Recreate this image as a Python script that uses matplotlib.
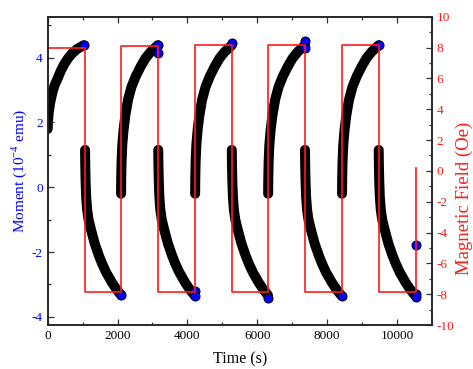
import matplotlib
matplotlib.use("Agg")
import matplotlib.pyplot as plt
from matplotlib.ticker import MultipleLocator

plt.rcParams["font.family"] = ["Liberation Serif", "DejaVu Serif"]
plt.rcParams["mathtext.fontset"] = "custom"
plt.rcParams["mathtext.rm"] = "Liberation Serif"
plt.rcParams["axes.unicode_minus"] = False

# field switching times (s) and field levels (Oe)
switch_t = [0, 1070, 2100, 3165, 4220, 5270, 6310, 7365, 8425, 9475, 10545]
field_oe = [8.0, -7.85, 8.1, -7.85, 8.15, -7.85, 8.15, -7.85, 8.15, -7.85, 0.2]

# first segment (field on at t=0)
seg1_t = [0, 10, 30, 70, 130, 200, 282, 380, 474, 580, 690, 850, 1030]
seg1_m = [1.8, 2.05, 2.3, 2.6, 2.9, 3.15, 3.35, 3.6, 3.8, 3.97, 4.12, 4.27, 4.38]

# rise after switching to +H (time since switch, moment)
rise_start = [2100, 4220, 6310, 8425]
rise_dt = [0, 5, 15, 35, 70, 120, 200, 300, 420, 560, 700, 850, 1000, 1050]
rise_m = [-0.2, 0.3, 0.8, 1.3, 1.75, 2.2, 2.7, 3.1, 3.42, 3.72, 3.98, 4.18, 4.33, 4.38]

# decay after switching to -H
decay_start = [1070, 3165, 5270, 7365, 9475]
decay_dt = [0, 5, 15, 32, 60, 100, 175, 280, 400, 489, 600, 776, 900, 1034]
decay_m = [1.15, 0.7, 0.2, -0.3, -0.7, -1.0, -1.33, -1.75, -2.12, -2.36, -2.62,
           -2.95, -3.15, -3.33]

# visible blue points at the segment ends
dot_t = [1030, 2100, 3165, 3165, 4220, 4220, 5270, 6310, 7365, 7365, 8425, 9475,
         10545, 10545, 10545]
dot_m = [4.38, -3.33, 4.38, 4.13, -3.2, -3.36, 4.45, -3.43, 4.51, 4.28, -3.36,
         4.38, -3.28, -3.39, -1.79]

BLUE = "#0000ff"
RED = "#ff1a1a"

fig = plt.figure(figsize=(4.73, 3.69), dpi=100)
ax = fig.add_axes([0.1008, 0.1192, 0.8125, 0.8355])

line_kw = dict(color="black", lw=7.2, solid_capstyle="round",
               solid_joinstyle="round", zorder=2)
ax.plot(seg1_t, seg1_m, **line_kw)
for t0 in rise_start:
    ax.plot([t0 + d for d in rise_dt], rise_m, **line_kw)
for t0 in decay_start:
    ax.plot([t0 + d for d in decay_dt], decay_m, **line_kw)
ax.plot(dot_t, dot_m, "o", ms=6.5, mfc=BLUE, mec="black", mew=0.7,
        ls="none", zorder=3)

ax.set_xlim(0, 11000)
ax.set_ylim(-4.25, 5.26)
ax.xaxis.set_major_locator(MultipleLocator(2000))
ax.xaxis.set_minor_locator(MultipleLocator(1000))
ax.yaxis.set_major_locator(MultipleLocator(2))
ax.yaxis.set_minor_locator(MultipleLocator(1))
ax.tick_params(which="both", direction="in", top=True, right=False,
               labelsize=9.5, width=0.9, color="#333333")
ax.tick_params(which="major", length=4.5)
ax.tick_params(which="minor", length=2.5)
ax.tick_params(axis="y", labelcolor=BLUE)
ax.set_xlabel("Time (s)", fontsize=11.5, labelpad=7)
ax.set_ylabel("Moment (10$^{-4}$ emu)", fontsize=11, color=BLUE, labelpad=2)

ax2 = ax.twinx()
ax2.plot(switch_t, field_oe, drawstyle="steps-post", color=RED, lw=1.2)
ax2.set_ylim(-10, 10)
ax2.yaxis.set_major_locator(MultipleLocator(2))
ax2.yaxis.set_minor_locator(MultipleLocator(1))
ax2.tick_params(which="both", direction="in", labelsize=9.5, width=0.9,
                color="#333333", labelcolor=RED)
ax2.tick_params(which="major", length=4.5)
ax2.tick_params(which="minor", length=2.5)
ax2.set_ylabel("Magnetic Field (Oe)", fontsize=13.5, color=RED)
ax2.yaxis.set_label_coords(1.062, 0.41)

for a in (ax, ax2):
    for s in a.spines.values():
        s.set_linewidth(1.1)
        s.set_color("#222222")

fig.savefig("out.png", dpi=100)
